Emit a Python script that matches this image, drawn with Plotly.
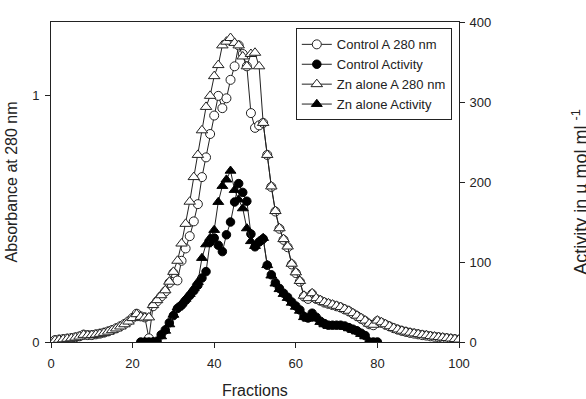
import plotly.graph_objects as go

fractions = list(range(1, 101))

control_a280 = [0.008, 0.010, 0.012, 0.014, 0.016, 0.019, 0.023, 0.030, 0.028, 0.028,
                0.031, 0.034, 0.038, 0.043, 0.049, 0.056, 0.064, 0.073, 0.084, 0.098,
                0.115, 0.104, 0.100, 0.015, 0.145, 0.165, 0.185, 0.205, 0.240, 0.280,
                0.250, 0.330, 0.380, 0.430, 0.490, 0.560, 0.670, 0.750, 0.845, 0.920,
                1.000, 0.950, 0.990, 1.065, 1.120, 1.205, 1.170, 1.120, 0.930, 0.870,
                0.880, 0.890, 0.760, 0.630, 0.530, 0.460, 0.415, 0.385, 0.315, 0.280,
                0.245, 0.185, 0.175, 0.195, 0.175, 0.168, 0.160, 0.155, 0.150, 0.145,
                0.140, 0.132, 0.125, 0.115, 0.105, 0.095, 0.085, 0.072, 0.068, 0.085,
                0.078, 0.070, 0.063, 0.056, 0.050, 0.045, 0.041, 0.037, 0.034, 0.031,
                0.028, 0.026, 0.023, 0.021, 0.019, 0.017, 0.015, 0.013, 0.011, 0.009]

zn_a280 = [0.007, 0.009, 0.011, 0.013, 0.015, 0.018, 0.022, 0.029, 0.027, 0.028,
           0.030, 0.033, 0.037, 0.042, 0.048, 0.055, 0.063, 0.072, 0.083, 0.097,
           0.113, 0.102, 0.099, 0.100, 0.150, 0.170, 0.190, 0.210, 0.245, 0.285,
           0.330, 0.400, 0.480, 0.570, 0.670, 0.760, 0.860, 0.955, 1.000, 1.080,
           1.125, 1.205, 1.220, 1.235, 1.215, 1.205, 1.160, 1.120, 1.170, 1.175,
           1.120, 0.890, 0.760, 0.632, 0.532, 0.462, 0.418, 0.388, 0.318, 0.283,
           0.248, 0.188, 0.178, 0.198, 0.178, 0.170, 0.162, 0.157, 0.152, 0.147,
           0.142, 0.134, 0.127, 0.117, 0.107, 0.097, 0.087, 0.074, 0.070, 0.087,
           0.080, 0.072, 0.064, 0.057, 0.051, 0.046, 0.042, 0.038, 0.035, 0.032,
           0.029, 0.027, 0.024, 0.022, 0.020, 0.018, 0.016, 0.014, 0.012, 0.010]

control_act_fr = list(range(22, 81))
control_act = [0, 0, 0, 0, 1, 9, 15, 24, 33, 42,
               46, 52, 58, 64, 71, 80, 88, 125, 130, 121,
               113, 134, 150, 175, 198, 187, 176, 135, 119, 125,
               129, 96, 84, 74, 67, 61, 56, 50, 45, 40,
               32, 30, 36, 31, 26, 23, 21, 21, 21, 21,
               20, 18, 16, 14, 11, 8, 0, 0, 0]

zn_act_fr = list(range(25, 79))
zn_act = [0, 0, 7, 14, 22, 34, 43, 48, 54, 60,
          67, 75, 105, 122, 130, 140, 175, 195, 203, 214,
          190, 178, 167, 142, 126, 120, 126, 130, 96, 83,
          73, 66, 60, 55, 49, 44, 39, 31, 29, 35,
          30, 25, 22, 20, 20, 20, 20, 19, 17, 15,
          13, 10, 7, 0]

FONT = "Liberation Sans, Arial, sans-serif"
INK = "#222222"

fig = go.Figure()
line_style = dict(color=INK, width=1)

fig.add_trace(go.Scatter(x=fractions, y=control_a280, mode="lines+markers",
                         name="Control A 280 nm", line=line_style,
                         marker=dict(symbol="circle", size=9, color="white",
                                     line=dict(color=INK, width=1))))
fig.add_trace(go.Scatter(x=control_act_fr, y=control_act, mode="lines+markers",
                         name="Control Activity", yaxis="y2", line=line_style,
                         marker=dict(symbol="circle", size=8.5, color="black",
                                     line=dict(color="black", width=1))))
fig.add_trace(go.Scatter(x=fractions, y=zn_a280, mode="lines+markers",
                         name="Zn alone A 280 nm", line=line_style,
                         marker=dict(symbol="triangle-up", size=10, color="white",
                                     line=dict(color=INK, width=1))))
fig.add_trace(go.Scatter(x=zn_act_fr, y=zn_act, mode="lines+markers",
                         name="Zn alone Activity", yaxis="y2", line=line_style,
                         marker=dict(symbol="triangle-up", size=9.5, color="black",
                                     line=dict(color="black", width=1))))

axis_common = dict(showline=True, linecolor=INK, linewidth=1, ticks="outside",
                   ticklen=5, tickcolor=INK, showgrid=False, zeroline=False,
                   tickfont=dict(family=FONT, size=13, color=INK))

fig.update_layout(
    width=586, height=399,
    margin=dict(l=51, r=127, t=22, b=57),
    paper_bgcolor="white", plot_bgcolor="white",
    font=dict(family=FONT, size=13, color=INK),
    showlegend=True,
    legend=dict(x=0.6, y=0.98, xanchor="left", yanchor="top",
                bordercolor=INK, borderwidth=1, bgcolor="white",
                font=dict(family=FONT, size=13, color=INK),
                tracegroupgap=0, itemwidth=30),
    xaxis=dict(range=[0, 100], tickvals=[0, 20, 40, 60, 80, 100], mirror=True,
               ticklabelstandoff=4, **axis_common),
    yaxis=dict(range=[0, 1.3], tickvals=[0, 1], ticklabelstandoff=3, **axis_common),
    yaxis2=dict(range=[0, 400], tickvals=[0, 100, 200, 300, 400], overlaying="y",
                side="right", anchor="x", ticklabelstandoff=2, **axis_common),
    annotations=[
        dict(text="Fractions", xref="paper", yref="paper", x=0.5, y=-0.118,
             xanchor="center", yanchor="top", showarrow=False,
             font=dict(family=FONT, size=16, color=INK)),
        dict(text="Absorbance at 280 nm", xref="paper", yref="paper", x=-0.097, y=0.5,
             xanchor="center", yanchor="middle", textangle=-90, showarrow=False,
             font=dict(family=FONT, size=16, color=INK)),
        dict(text="Activity in µ mol ml <sup>-1</sup>", xref="paper", yref="paper",
             x=1.297, y=0.47, xanchor="center", yanchor="middle", textangle=-90,
             showarrow=False, font=dict(family=FONT, size=18, color=INK)),
    ],
)

fig.write_html("out.html")
